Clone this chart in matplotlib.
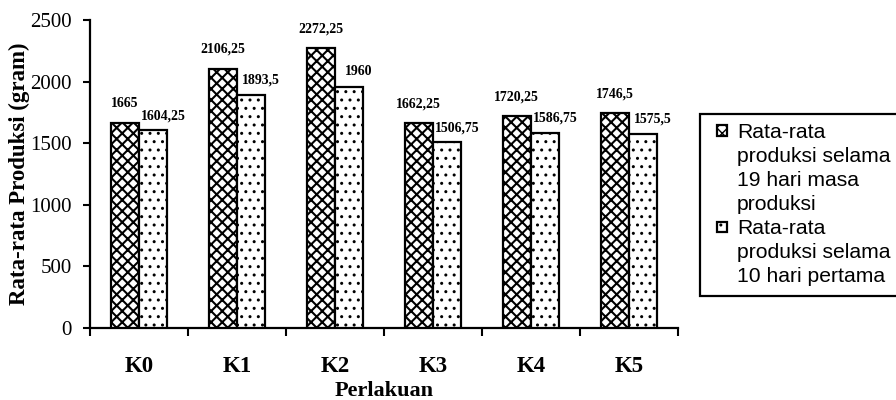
import numpy as np
import matplotlib.pyplot as plt
from matplotlib.patches import Patch, Rectangle
from matplotlib.legend_handler import HandlerPatch

# ---------- Data ----------
categories = ["K0", "K1", "K2", "K3", "K4", "K5"]
prod_19 = [1665, 2106.25, 2272.25, 1662.25, 1720.25, 1746.5]
prod_10 = [1604.25, 1893.5, 1960, 1506.75, 1586.75, 1575.5]
labels_19 = ["1665", "2106,25", "2272,25", "1662,25", "1720,25", "1746,5"]
labels_10 = ["1604,25", "1893,5", "1960", "1506,75", "1586,75", "1575,5"]
legend_19 = ["Rata-rata", "produksi selama", "19 hari masa", "produksi"]
legend_10 = ["Rata-rata", "produksi selama", "10 hari pertama"]

plt.rcParams["font.family"] = ["Liberation Serif", "DejaVu Serif"]

fig = plt.figure(figsize=(8.96, 4.0), dpi=100)
ax = fig.add_axes([90 / 896, 72 / 400, 588 / 896, 308 / 400])

x = np.arange(len(categories))
w = 0.29

with plt.rc_context({"hatch.linewidth": 1.5}):
    b1 = ax.bar(x - w / 2, prod_19, w, facecolor="white", edgecolor="black",
                linewidth=1.6, hatch="xxx", zorder=3)
    h1 = Patch(facecolor="white", edgecolor="black", hatch="xxx", linewidth=1.6)
with plt.rc_context({"hatch.linewidth": 1.0}):
    b2 = ax.bar(x + w / 2, prod_10, w, facecolor="white", edgecolor="black",
                linewidth=1.6, hatch="..", zorder=3)
    h2 = Patch(facecolor="white", edgecolor="black", hatch="..", linewidth=1.6)

for xi, v, s in zip(x, prod_19, labels_19):
    ax.annotate(s, (xi - w / 2, v), xytext=(0, 9), textcoords="offset points",
                ha="center", va="bottom", fontsize=10, fontweight="bold")
for xi, v, s in zip(x, prod_10, labels_10):
    ax.annotate(s, (xi + w / 2, v), xytext=(7, 6), textcoords="offset points",
                ha="center", va="bottom", fontsize=10, fontweight="bold")

ax.set_xlim(-0.5, len(categories) - 0.5)
ax.set_ylim(0, 2500)
ax.set_yticks(np.arange(0, 2501, 500))
ax.set_xticks(x)
ax.set_xticklabels(categories, fontsize=16.5, fontweight="bold")
ax.set_xticks(np.arange(-0.5, len(categories), 1), minor=True)
ax.tick_params(axis="x", which="major", length=0, pad=20)
ax.tick_params(axis="x", which="minor", length=6, width=1.5, direction="out")
ax.tick_params(axis="y", labelsize=15, length=5, width=1.5, pad=8)

for side in ["top", "right"]:
    ax.spines[side].set_visible(False)
for side in ["left", "bottom"]:
    ax.spines[side].set_linewidth(1.6)

ax.set_ylabel("Rata-rata Produksi (gram)", fontsize=16.5, fontweight="bold",
              labelpad=0)
ax.set_xlabel("Perlakuan", fontsize=16, fontweight="bold", labelpad=3)


# small square swatch at the right of the handle area
def square(legend, orig_handle, xdescent, ydescent, width, height, fontsize):
    s = 0.5 * fontsize
    return Rectangle((width - s - xdescent, (height - s) / 2 - ydescent), s, s)


# legend: each line as its own entry so the swatch sits on the first line
blank = Patch(facecolor="none", edgecolor="none")
handles = [h1] + [blank] * (len(legend_19) - 1) + [h2] + [blank] * (len(legend_10) - 1)
labels = legend_19 + legend_10
leg = fig.legend(handles, labels, loc="lower left",
                 bbox_to_anchor=(700 / 896, 104 / 400), borderaxespad=0,
                 prop={"family": "Liberation Sans", "size": 15.2},
                 handler_map={Patch: HandlerPatch(patch_func=square)},
                 handlelength=0.85, handleheight=0.7, handletextpad=0.45,
                 labelspacing=0.24, borderpad=0.45, fancybox=False,
                 framealpha=1, edgecolor="black")
leg.get_frame().set_linewidth(1.6)

fig.savefig("out.png", dpi=100)
